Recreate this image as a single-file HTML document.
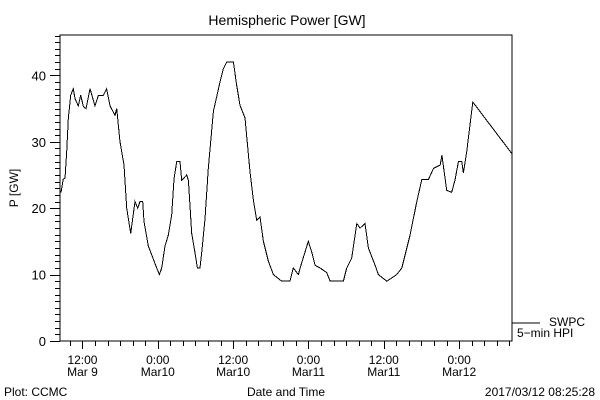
<!DOCTYPE html>
<html><head><meta charset="utf-8"><style>
html,body{margin:0;padding:0;background:#fff;}
svg{display:block;font-family:"Liberation Sans",sans-serif;}
</style></head><body>
<svg id="chart" width="600" height="400">
<rect width="600" height="400" fill="#fff"/>
<text x="287" y="25" font-size="14" text-anchor="middle">Hemispheric Power [GW]</text>
<text x="18" y="188" font-size="12" text-anchor="middle" transform="rotate(-90 18 188)">P [GW]</text>
<text x="286" y="396" font-size="12" text-anchor="middle">Date and Time</text>
<text x="4" y="396" font-size="12">Plot: CCMC</text>
<text x="595" y="396" font-size="12" text-anchor="end">2017/03/12 08:25:28</text>
<g id="axes"></g>
<g id="series"></g>
<line x1="512" y1="323" x2="540" y2="323" stroke="#000"/>
<text x="549" y="326" font-size="12">SWPC</text>
<text x="517" y="337" font-size="12">5−min HPI</text>
</svg>
<script>
const hours=[0.16,0.53,0.8,1.06,1.33,1.7,2.12,2.39,2.92,3.29,3.72,4.14,4.78,5.58,6.11,6.9,7.43,7.97,8.76,9.03,9.56,10.2,10.62,11.26,11.95,12.37,12.75,13.17,13.38,14.07,14.87,15.4,15.83,16.2,16.73,17.26,17.79,18.16,18.59,19.12,19.38,20.18,20.45,20.98,21.51,21.88,22.3,22.57,23.1,23.63,24.43,25.49,26.02,26.55,27.62,28.15,28.68,29.47,30.27,30.8,31.33,31.86,32.4,33.19,33.99,35.32,36.64,37.17,37.97,38.24,39.56,40.1,40.63,41.43,42.49,43.02,45.14,45.67,46.47,47.27,47.8,48.59,49.12,50.19,50.72,52.05,53.64,54.44,55.77,56.84,57.63,58.69,59.49,60.56,60.83,61.6,62.4,62.93,63.46,64,64.26,64.79,65.75,72.0];
const power=[22.4,24.4,24.5,28.5,33.5,37,38,36.5,35.4,37,35.3,35,38,35.4,37,37,38,35.4,34,35,30,26.5,20,16.2,21,20,21,21,18,14.3,12.3,11,10,11,14.3,16,19,24.4,27,27,24.2,25,24.2,16.2,13.3,11,11,13.3,18.4,26,34.6,39,41,42,42,38.5,35.5,33.6,25.5,21.2,18.2,18.7,15,12,10,9,9,11,10,11,15,13.4,11.4,11,10.3,9,9,11,12.5,17.7,17,17.7,14,11.4,10,9,10,11,16,21,24.3,24.3,26,26.5,28,22.7,22.4,24.3,27,27,25.3,28.5,36,28.2];
const yTicks=[0,10,20,30,40];
const xTickHours=[3.58,15.58,27.58,39.58,51.58,63.58];
const xTickLabels=[["12:00","Mar 9"],["0:00","Mar10"],["12:00","Mar10"],["0:00","Mar11"],["12:00","Mar11"],["0:00","Mar12"]];
const L=60,R=512,T=35,B=341,HSPAN=72,Y0=341,YS=6.64;
const xs=h=>L+h*(R-L)/HSPAN, ys=v=>Y0-v*YS;
const NS="http://www.w3.org/2000/svg";
const ax=document.getElementById('axes'), se=document.getElementById('series');
function mk(tag,at,parent){const e=document.createElementNS(NS,tag);for(const k in at)e.setAttribute(k,at[k]);parent.appendChild(e);return e;}
const frame=mk('rect',{x:L,y:T,width:R-L,height:B-T,fill:'none',stroke:'#000'},ax);


for(let v=0;v*YS<=B-T;v++){const y=Math.round(ys(v))+0.5;const len=v%10===0?10:5;
 const t=mk('line',{x1:L-len,y1:y,x2:L,y2:y,stroke:'#000'},ax);
 
 }
yTicks.forEach(v=>{const t=mk('text',{x:L-14,y:ys(v)+5,'font-size':13,'text-anchor':'end'},ax);t.textContent=v;
 
 });
for(let h=xTickHours[0]-2;h<=HSPAN;h+=2){if(h<0)continue;const x=Math.round(xs(h))+0.5;
 const major=xTickHours.some(m=>Math.abs(m-h)<0.01);
 const t=mk('line',{x1:x,y1:B,x2:x,y2:B+(major?8:5),stroke:'#000'},ax);
 
 }
xTickHours.forEach((h,i)=>{const x=xs(h);
 const t1=mk('text',{x:x,y:364,'font-size':12,'text-anchor':'middle'},ax);t1.textContent=xTickLabels[i][0];
 
 
 const t2=mk('text',{x:x,y:376,'font-size':12,'text-anchor':'middle'},ax);t2.textContent=xTickLabels[i][1];
 
 });
let d='';hours.forEach((h,i)=>{d+=(i?'L':'M')+xs(h).toFixed(1)+' '+ys(power[i]).toFixed(1);});
const p=mk('path',{d:d,fill:'none',stroke:'#000','stroke-width':1,'shape-rendering':'crispEdges'},se);


</script>
</body></html>
